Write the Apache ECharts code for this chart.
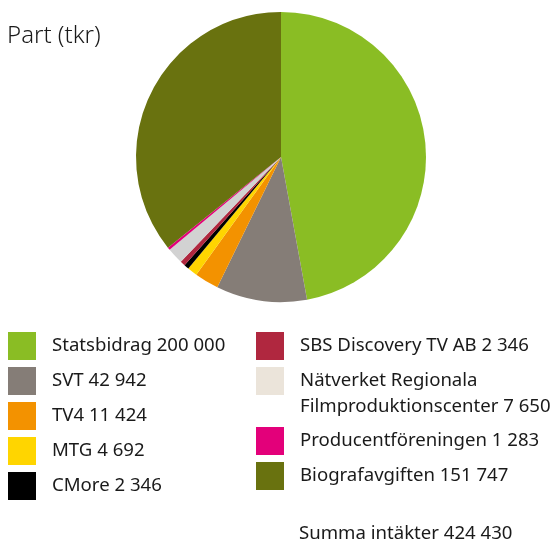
<!DOCTYPE html>
<html>
<head>
<meta charset="utf-8">
<script src="https://cdn.jsdelivr.net/npm/echarts@6/dist/echarts.min.js"></script>
<style>
  html, body { margin: 0; padding: 0; background: #fff; }
  #main { width: 556px; height: 540px; }
</style>
</head>
<body>
<div id="main"></div>
<script>
var names = ['Statsbidrag', 'SVT', 'TV4', 'MTG', 'CMore', 'SBS Discovery TV AB',
             'Nätverket Regionala Filmproduktionscenter', 'Producentföreningen', 'Biografavgiften'];
var values = [200000, 42942, 11424, 4692, 2346, 2346, 7650, 1283, 151747];
var valueLabels = ['200 000', '42 942', '11 424', '4 692', '2 346', '2 346', '7 650', '1 283', '151 747'];
var sliceColors = ['#8abd24', '#857d77', '#f39200', '#ffd500', '#000000', '#b0273f', '#d2d2d2', '#e3007a', '#69720f'];
var swatchColors = ['#8abd24', '#857d77', '#f39200', '#ffd500', '#000000', '#b0273f', '#ebe4da', '#e3007a', '#69720f'];
var totalLabel = 'Summa intäkter 424 430';

var font = 'Noto Sans';
var pieData = names.map(function (n, i) {
    return { name: n, value: values[i], itemStyle: { color: sliceColors[i] } };
});

function labelFor(name) {
    var i = names.indexOf(name);
    if (name === 'Nätverket Regionala Filmproduktionscenter') {
        // empty first line so the real first line lines up with the swatch
        return '\nNätverket Regionala\nFilmproduktionscenter ' + valueLabels[i];
    }
    return name + ' ' + valueLabels[i];
}

function legendItem(i) {
    return { name: names[i], itemStyle: { color: swatchColors[i] } };
}

var baseText = { fontFamily: font, fontSize: 18.6, color: '#1a1a1a', lineHeight: 26, padding: [0, 0, 0, 11] };
var baseLegend = {
    orient: 'vertical',
    padding: 0,
    itemWidth: 28,
    itemHeight: 28,
    itemGap: 7,
    icon: 'rect',
    selectedMode: false,
    formatter: labelFor,
    textStyle: baseText
};

// left column: first five, right column placed one by one
var legends = [Object.assign({}, baseLegend, {
    left: 8, top: 332, data: [0, 1, 2, 3, 4].map(legendItem)
})];
var rightTops = [332, 342, 427, 462];
[5, 6, 7, 8].forEach(function (idx, k) {
    legends.push(Object.assign({}, baseLegend, {
        left: 256, top: rightTops[k], data: [legendItem(idx)]
    }));
});

var chart = echarts.init(document.getElementById('main'));
chart.setOption({
    animation: false,
    title: [
        { text: 'Part (tkr)', left: 7, top: 24, padding: 0,
          textStyle: { fontFamily: font, fontSize: 24, fontWeight: 300, color: '#1a1a1a' } },
        { text: totalLabel, left: 299, top: 524, padding: 0,
          textStyle: { fontFamily: font, fontSize: 18.6, fontWeight: 'normal', color: '#1a1a1a' } }
    ],
    legend: legends,
    series: [{
        type: 'pie',
        center: [281, 157],
        radius: 145,
        startAngle: 90,
        clockwise: true,
        label: { show: false },
        labelLine: { show: false },
        emphasis: { disabled: true },
        itemStyle: { borderWidth: 0 },
        data: pieData
    }]
});
</script>
</body>
</html>
